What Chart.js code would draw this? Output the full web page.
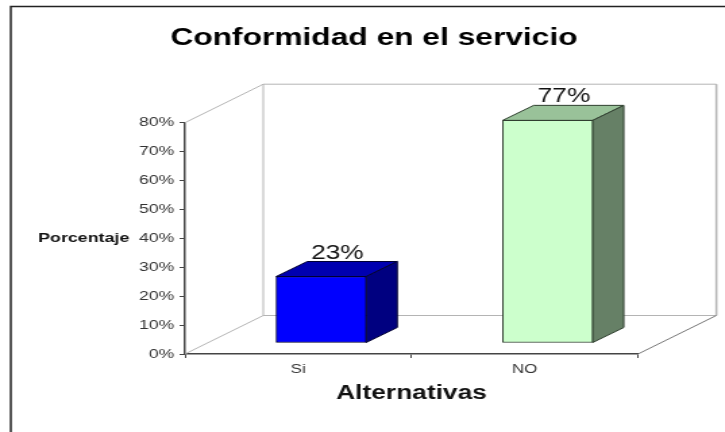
<!DOCTYPE html>
<html>
<head>
<meta charset="utf-8">
<style>
html, body { margin: 0; padding: 0; background: #fff; overflow: hidden; }
#chart { display: block; transform-origin: 0 0; transform: scaleX(1.35); filter: blur(0.4px); }
</style>
<script src="https://cdn.jsdelivr.net/npm/chart.js@4/dist/chart.umd.min.js"></script>
</head>
<body>
<canvas id="chart" width="537" height="432"></canvas>
<script>
var categories = ["Si", "NO"];
var values = [23, 77];
var valueLabels = ["23%", "77%"];
var chartTitle = "Conformidad en el servicio";
var xTitle = "Alternativas";
var yTitle = "Porcentaje";

var frontColors = ["#0000ff", "#ccffcc"];
var topColors = ["#0000b0", "#99c299"];
var sideColors = ["#000080", "#668066"];
var edgeColors = ["#000033", "#2f3f2f"];

var FONT = "'Liberation Sans', Arial, sans-serif";
var WALL = { dx: 58, dy: -38.5 };   // depth of the floor
var BAR = { dx: 17, dy: -11, depthX: 23, depthY: -15 };

var box3d = {
    id: "box3d",
    beforeDraw: function (chart) {
        var ctx = chart.ctx;
        // page frame, only top and left in the picture
        ctx.save();
        ctx.strokeStyle = "#222";
        ctx.lineWidth = 1.5;
        ctx.beginPath();
        ctx.moveTo(8, 432);
        ctx.lineTo(8, 6.5);
        ctx.lineTo(537, 6.5);
        ctx.stroke();
        ctx.restore();
    },
    beforeDatasetsDraw: function (chart) {
        var ctx = chart.ctx, a = chart.chartArea;
        var bx = a.left + WALL.dx, by = a.bottom + WALL.dy;
        var tx = a.right + WALL.dx, ty = a.top + WALL.dy;
        ctx.save();
        ctx.strokeStyle = "#b4b4b4";
        ctx.lineWidth = 1;
        ctx.beginPath();
        ctx.moveTo(a.left, a.top);
        ctx.lineTo(bx, ty);
        ctx.lineTo(tx, ty);
        ctx.lineTo(tx, by);
        ctx.lineTo(bx, by);
        ctx.lineTo(bx, ty);
        ctx.moveTo(a.left, a.bottom);
        ctx.lineTo(bx, by);
        ctx.stroke();
        ctx.lineWidth = 1.5;
        ctx.beginPath();
        ctx.moveTo(tx, ty);
        ctx.lineTo(tx, by);
        ctx.stroke();
        ctx.strokeStyle = "#777";
        ctx.lineWidth = 1;
        ctx.beginPath();
        ctx.moveTo(a.right, a.bottom);
        ctx.lineTo(tx, by);
        ctx.stroke();
        ctx.restore();
    },
    beforeDatasetDraw: function (chart, args) {
        var ctx = chart.ctx;
        ctx.save();
        ctx.translate(BAR.dx, BAR.dy);
        args.meta.data.forEach(function (bar, i) {
            var l = bar.x - bar.width / 2, r = bar.x + bar.width / 2;
            ctx.strokeStyle = edgeColors[i];
            ctx.lineWidth = 1;
            ctx.fillStyle = topColors[i];
            ctx.beginPath();
            ctx.moveTo(l, bar.y);
            ctx.lineTo(l + BAR.depthX, bar.y + BAR.depthY);
            ctx.lineTo(r + BAR.depthX, bar.y + BAR.depthY);
            ctx.lineTo(r, bar.y);
            ctx.closePath();
            ctx.fill();
            ctx.stroke();
            ctx.fillStyle = sideColors[i];
            ctx.beginPath();
            ctx.moveTo(r, bar.y);
            ctx.lineTo(r + BAR.depthX, bar.y + BAR.depthY);
            ctx.lineTo(r + BAR.depthX, bar.base + BAR.depthY);
            ctx.lineTo(r, bar.base);
            ctx.closePath();
            ctx.fill();
            ctx.stroke();
        });
    },
    afterDatasetDraw: function (chart) {
        chart.ctx.restore();
    },
    afterDatasetsDraw: function (chart) {
        var ctx = chart.ctx, meta = chart.getDatasetMeta(0);
        ctx.save();
        ctx.fillStyle = "#111";
        ctx.font = "19.5px " + FONT;
        ctx.textAlign = "center";
        ctx.textBaseline = "alphabetic";
        meta.data.forEach(function (bar, i) {
            ctx.fillText(valueLabels[i], bar.x + BAR.dx + BAR.depthX / 2 + 0.5, bar.y + BAR.dy + BAR.depthY - 3);
        });
        ctx.font = "bold 13.2px " + FONT;
        ctx.textBaseline = "middle";
        ctx.fillText(yTitle, 62, 238);
        ctx.restore();
    }
};

new Chart(document.getElementById("chart").getContext("2d"), {
    type: "bar",
    data: {
        labels: categories,
        datasets: [{
            data: values,
            backgroundColor: frontColors,
            borderColor: edgeColors,
            borderWidth: 1,
            borderSkipped: false,
            barThickness: 66.7,
            clip: false
        }]
    },
    options: {
        responsive: false,
        animation: false,
        layout: { padding: { right: 64.4, left: 81.4, top: 0, bottom: 0 } },
        plugins: {
            legend: { display: false },
            tooltip: { enabled: false },
            title: {
                display: true,
                text: chartTitle,
                color: "#000",
                font: { family: FONT, size: 23.5, weight: "bold", lineHeight: 1.2 },
                padding: { top: 24, bottom: 70.5 }
            }
        },
        scales: {
            x: {
                afterFit: function (scale) { scale.height = 78; },
                grid: { drawOnChartArea: false, tickLength: 4, color: "#444" },
                border: { color: "#444", width: 1.5 },
                ticks: { color: "#333", padding: 4, font: { family: FONT, size: 12.5 } },
                title: {
                    display: true,
                    text: xTitle,
                    color: "#111",
                    padding: { top: 6, bottom: 27 },
                    font: { family: FONT, size: 19.5, weight: "bold" }
                }
            },
            y: {
                min: 0,
                max: 80,
                afterFit: function (scale) { scale.width = 55.6; },
                grid: { drawOnChartArea: false, tickLength: 4, color: "#444" },
                border: { color: "#444", width: 1.5 },
                ticks: {
                    stepSize: 10,
                    color: "#333",
                    padding: 4,
                    font: { family: FONT, size: 13 },
                    callback: function (v) { return v + "%"; }
                }
            }
        }
    },
    plugins: [box3d]
});
</script>
</body>
</html>
